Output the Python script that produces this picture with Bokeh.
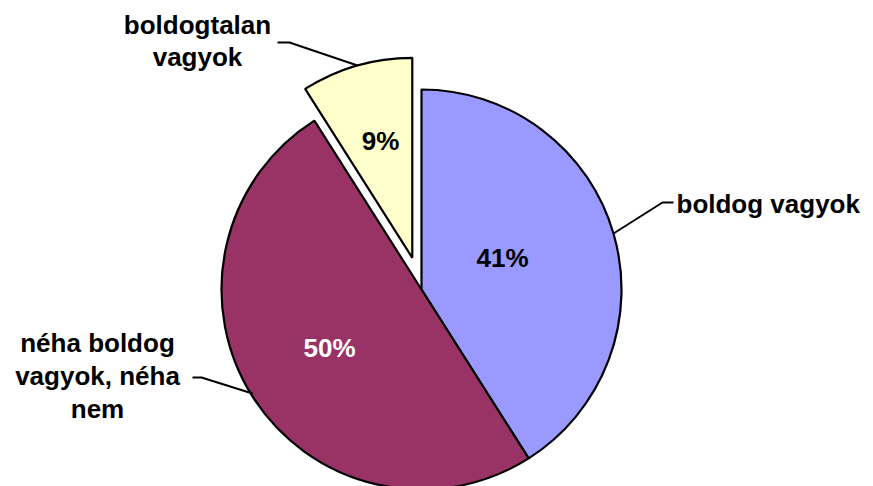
import math
from bokeh.plotting import figure
from bokeh.models import Range1d
from bokeh.core.properties import value
from bokeh.embed import file_html
from bokeh.resources import INLINE

# ---- data ----
categories = ["boldog vagyok", "néha boldog vagyok, néha nem", "boldogtalan vagyok"]
values = [41, 50, 9]
pct_labels = ["41%", "50%", "9%"]

# ---- style / layout ----
colors = ["#9999FF", "#993366", "#FFFFCC"]
pct_colors = ["black", "white", "black"]
explode = [0, 0, 33]                               # px offset of each slice
pct_pos = [(502, 257.5), (329, 347), (380, 140.5)]  # label centres (image px)

W, H = 873, 486
FONT = value("Liberation Sans")
FS = "26px"

def P(xi, yi):
    """image pixel -> data coordinates"""
    return xi, H - yi

p = figure(width=W, height=H, output_backend="svg", toolbar_location=None,
           x_range=Range1d(0, W), y_range=Range1d(0, H), min_border=0)
p.axis.visible = False
p.grid.visible = False
p.outline_line_color = None
p.background_fill_color = "white"
p.border_fill_color = "white"

cx, cy = P(421, 289)
R = 200
total = sum(values)
start = 0.0
for v, col, ex in zip(values, colors, explode):
    a1 = start / total * 2 * math.pi        # clockwise from top
    a2 = (start + v) / total * 2 * math.pi
    mid = (a1 + a2) / 2
    ox = cx + ex * math.sin(mid)
    oy = cy + ex * math.cos(mid)
    p.wedge(x=[ox], y=[oy], radius=R,
            start_angle=[math.pi / 2 - a2], end_angle=[math.pi / 2 - a1],
            fill_color=col, line_color="black", line_width=2.2)
    start += v

def txt(xi, yi, s, align="center", color="black"):
    x, y = P(xi, yi)
    p.text(x=[x], y=[y], text=[s], text_font=FONT, text_font_size=FS,
           text_font_style="bold", text_color=color, text_align=align,
           text_baseline="middle")

for lab, lc, (lx, ly) in zip(pct_labels, pct_colors, pct_pos):
    txt(lx, ly, lab, color=lc)

# ---- category labels & leader lines ----
def leader(pts):
    xs, ys = zip(*[P(a, b) for a, b in pts])
    p.line(x=list(xs), y=list(ys), line_color="black", line_width=2)

txt(676, 203, "boldog vagyok", align="left")
leader([(673, 202), (662, 202), (613, 233)])

txt(197, 24, "boldogtalan")
txt(197, 56, "vagyok")
leader([(277, 42), (289, 42), (357, 65)])

txt(97, 342, "néha boldog")
txt(97, 375, "vagyok, néha")
txt(97, 408, "nem")
leader([(192, 377), (201, 377), (252, 393)])

open("out.html", "w").write(file_html(p, INLINE))
